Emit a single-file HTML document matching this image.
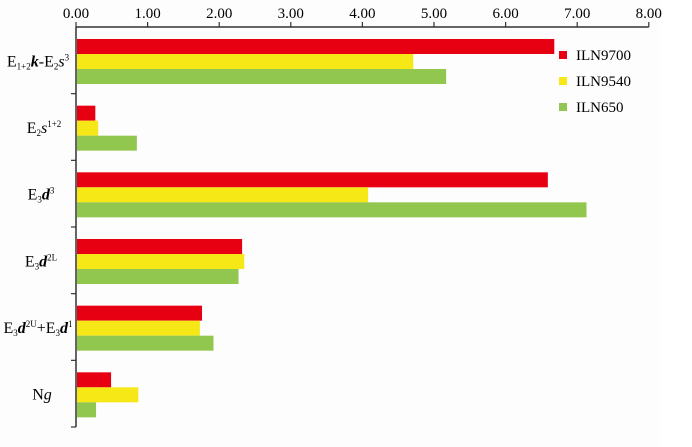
<!DOCTYPE html>
<html><head><meta charset="utf-8"><style>
body{margin:0;background:#fff}
svg{display:block;font-family:"Liberation Serif",serif}
</style></head><body>
<svg id="c" width="692" height="447">
<rect x="0" y="0" width="660" height="447" fill="#fdfdfd"/>
</svg>
<script>
const categories = ["g1","g2","g3","g4","g5","g6"];
const seriesNames = ["ILN9700","ILN9540","ILN650"];
const red = [6.68,0.27,6.59,2.32,1.76,0.49];
const yellow = [4.71,0.31,4.08,2.35,1.73,0.87];
const green = [5.17,0.85,7.13,2.27,1.92,0.28];
const ticks = ["0.00","1.00","2.00","3.00","4.00","5.00","6.00","7.00","8.00"];
const colors = ["#e60012","#f5e816","#92c74f"];
const NS="http://www.w3.org/2000/svg";
const svgEl=document.getElementById('c');
const x0=76, unit=71.6, yTop=27, yBottom=427;
const band=(yBottom-yTop)/categories.length;
function xs(v){return x0+v*unit;}
function mk(t,a){const e=document.createElementNS(NS,t);for(const k in a)e.setAttribute(k,a[k]);svgEl.appendChild(e);return e;}
const xa=mk('line',{x1:x0,y1:yTop,x2:xs(8),y2:yTop,stroke:'#333','stroke-width':1.5});


ticks.forEach((t,i)=>{
  const l=mk('line',{x1:xs(i),y1:yTop,x2:xs(i),y2:yTop-5,stroke:'#333','stroke-width':1.2});
  
  
  const tx=mk('text',{x:xs(i),y:18,'text-anchor':'middle','font-size':15});
  tx.textContent=t;
  
  
});
const ya=mk('line',{x1:x0,y1:yTop,x2:x0,y2:yBottom,stroke:'#333','stroke-width':1.5});


for(let i=1;i<=categories.length;i++){
  const l=mk('line',{x1:x0-5,y1:yTop+i*band,x2:x0,y2:yTop+i*band,stroke:'#333','stroke-width':1.2});
  
  
}
const series=[red,yellow,green];
categories.forEach((c,i)=>{
  series.forEach((s,j)=>{
    const r=mk('rect',{x:x0+1,y:yTop+i*band+12+j*15,width:Math.max(0,xs(s[i])-x0-1),height:15,fill:colors[j]});
    
    
  });
});
// label parts: [text, size, dy, italic, bold]
const labels=[
 [["E",16,0],["1+2",9,3],["k",16,-3,1,1],["-E",16,0],["2",9,3],["s",16,-3,1],["3",9,-6]],
 [["E",16,0],["2",9,3],["s",16,-3,1],["1+2",9,-6]],
 [["E",16,0],["3",9,3],["d",16,-3,1,1],["3",9,-6]],
 [["E",16,0],["3",9,3],["d",16,-3,1,1],["2L",9,-6]],
 [["E",16,0],["3",9,3],["d",16,-3,1,1],["2U",9,-6],["+E",16,6],["3",9,3],["d",16,-3,1,1],["1",9,-6]],
 [["N",16,0],["g",16,0,1]]];
const lx=[38,44,41,41,38,42];
labels.forEach((parts,i)=>{
  const t=mk('text',{x:lx[i],y:yTop+i*band+band/2+6,'text-anchor':'middle','font-size':16});
  parts.forEach(p=>{
    const s=document.createElementNS(NS,'tspan');
    s.textContent=p[0];
    s.setAttribute('font-size',p[1]);
    if(p[2])s.setAttribute('dy',p[2]);
    if(p[3])s.setAttribute('font-style','italic');
    if(p[4])s.setAttribute('font-weight','bold');
    t.appendChild(s);
  });
  
  
});
seriesNames.forEach((n,j)=>{
  const r=mk('rect',{x:559,y:51+j*26,width:8,height:8,fill:colors[j]});
  
  
  const t=mk('text',{x:576,y:60+j*26,'font-size':15});
  t.textContent=n;
  
  
});
</script>
</body></html>
